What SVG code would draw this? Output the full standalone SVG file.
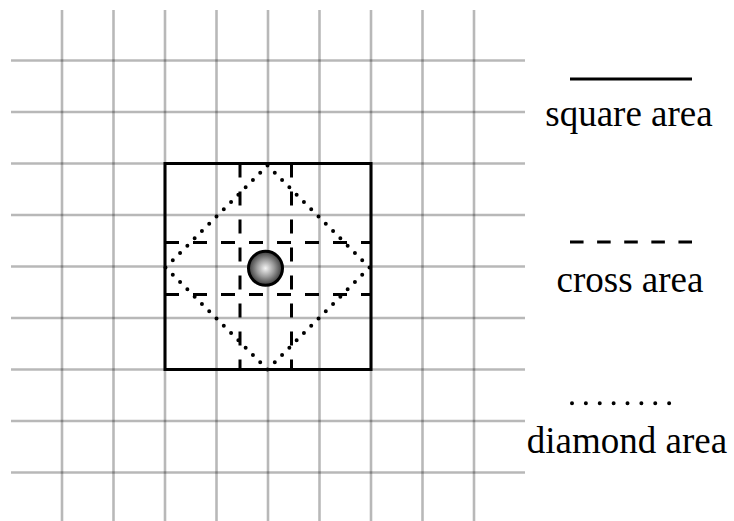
<svg xmlns="http://www.w3.org/2000/svg" width="734" height="521" viewBox="0 0 734 521">
  <style>
    .grid line { stroke: #000; stroke-opacity: 0.28; stroke-width: 2.6; }
    .solid { stroke: #000; stroke-width: 3; fill: none; }
    .dashed { stroke: #000; stroke-width: 3; fill: none; stroke-dasharray: 14 14; }
    .dotted { stroke: #000; stroke-width: 4; fill: none; stroke-linecap: round; stroke-dasharray: 0 1; }
  </style>
  <defs>
    <radialGradient id="ballGrad" cx="0.5" cy="0.5" r="0.5">
      <stop offset="0" stop-color="#f4f4f4"/>
      <stop offset="0.5" stop-color="#9c9c9c"/>
      <stop offset="1" stop-color="#383838"/>
    </radialGradient>
  </defs>
  <rect width="734" height="521" fill="#fff"/>

  <g id="grid" class="grid">
    <line x1="11" y1="60.5" x2="525" y2="60.5"/>
    <line x1="11" y1="112" x2="525" y2="112"/>
    <line x1="11" y1="163.5" x2="525" y2="163.5"/>
    <line x1="11" y1="215" x2="525" y2="215"/>
    <line x1="11" y1="266.5" x2="525" y2="266.5"/>
    <line x1="11" y1="318" x2="525" y2="318"/>
    <line x1="11" y1="369.5" x2="525" y2="369.5"/>
    <line x1="11" y1="421" x2="525" y2="421"/>
    <line x1="11" y1="472.5" x2="525" y2="472.5"/>
    <line x1="62" y1="10" x2="62" y2="521"/>
    <line x1="113.5" y1="10" x2="113.5" y2="521"/>
    <line x1="165" y1="10" x2="165" y2="521"/>
    <line x1="216.5" y1="10" x2="216.5" y2="521"/>
    <line x1="268" y1="10" x2="268" y2="521"/>
    <line x1="319.5" y1="10" x2="319.5" y2="521"/>
    <line x1="371" y1="10" x2="371" y2="521"/>
    <line x1="422.5" y1="10" x2="422.5" y2="521"/>
    <line x1="474" y1="10" x2="474" y2="521"/>
  </g>

  <g id="square-area">
    <rect class="solid" x="165" y="163.5" width="206" height="206"/>
  </g>

  <g id="cross-area">
    <line class="dashed" x1="240" y1="163.5" x2="240" y2="369.5"/>
    <line class="dashed" x1="291.5" y1="163.5" x2="291.5" y2="369.5"/>
    <line class="dashed" x1="165" y1="242.5" x2="371" y2="242.5"/>
    <line class="dashed" x1="165" y1="294.5" x2="371" y2="294.5"/>
  </g>

  <g id="diamond-area">
    <path class="dotted" pathLength="56" d="M267.5,165.5 L165.5,267.5 L267.5,369.5 L369.5,267.5 Z"/>
  </g>

  <g id="ball">
    <circle cx="265.5" cy="268.3" r="17" fill="url(#ballGrad)" stroke="#000" stroke-width="3"/>
  </g>

  <g id="connectors"></g>

  <g id="legend-square">
    <line class="solid" x1="570" y1="79" x2="692" y2="79"/>
    <text x="629" y="125.7" font-family="Liberation Serif, serif" font-size="37" text-anchor="middle" fill="#000">square area</text>
  </g>
  <g id="legend-cross">
    <line class="solid" x1="570" y1="242" x2="692" y2="242" pathLength="9" stroke-dasharray="1 1"/>
    <text x="630" y="292" font-family="Liberation Serif, serif" font-size="37" text-anchor="middle" fill="#000">cross area</text>
  </g>
  <g id="legend-diamond">
    <line class="dotted" x1="572" y1="403.3" x2="683" y2="403.3" pathLength="8"/>
    <text x="627" y="453" font-family="Liberation Serif, serif" font-size="37" text-anchor="middle" fill="#000">diamond area</text>
  </g>
</svg>
